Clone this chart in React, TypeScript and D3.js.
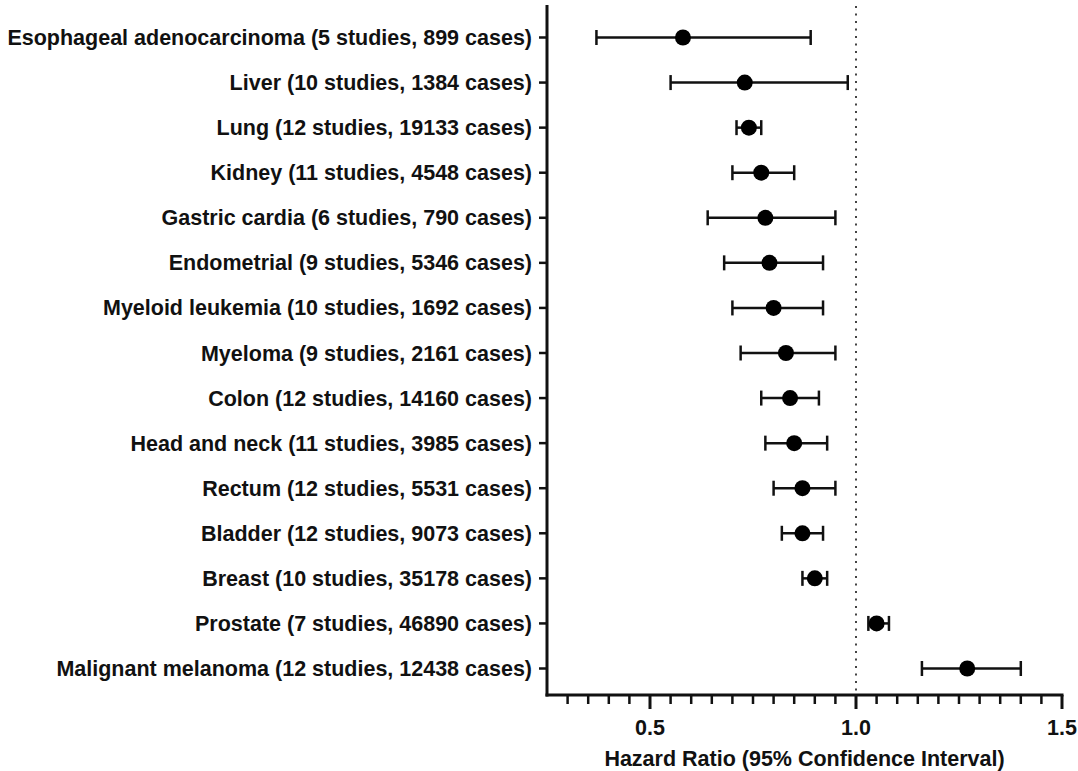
import { useEffect, useRef } from 'react'
import * as d3 from 'd3'

// Forest plot: hazard ratios with 95% CI
const categories = [
  'Esophageal adenocarcinoma (5 studies, 899 cases)',
  'Liver (10 studies, 1384 cases)',
  'Lung (12 studies, 19133 cases)',
  'Kidney (11 studies, 4548 cases)',
  'Gastric cardia (6 studies, 790 cases)',
  'Endometrial (9 studies, 5346 cases)',
  'Myeloid leukemia (10 studies, 1692 cases)',
  'Myeloma (9 studies, 2161 cases)',
  'Colon (12 studies, 14160 cases)',
  'Head and neck (11 studies, 3985 cases)',
  'Rectum (12 studies, 5531 cases)',
  'Bladder (12 studies, 9073 cases)',
  'Breast (10 studies, 35178 cases)',
  'Prostate (7 studies, 46890 cases)',
  'Malignant melanoma (12 studies, 12438 cases)',
]
const hazardRatio = [0.58, 0.73, 0.74, 0.77, 0.78, 0.79, 0.80, 0.83, 0.84, 0.85, 0.87, 0.87, 0.90, 1.05, 1.27]
const ciLower = [0.37, 0.55, 0.71, 0.70, 0.64, 0.68, 0.70, 0.72, 0.77, 0.78, 0.80, 0.82, 0.87, 1.03, 1.16]
const ciUpper = [0.89, 0.98, 0.77, 0.85, 0.95, 0.92, 0.92, 0.95, 0.91, 0.93, 0.95, 0.92, 0.93, 1.08, 1.40]

const xDomain = [0.25, 1.5]
const majorTicks = [0.5, 1.0, 1.5]
const majorTickLabels = ['0.5', '1.0', '1.5']
const referenceValue = 1.0
const xTitle = 'Hazard Ratio (95% Confidence Interval)'

const W = 1078
const H = 771
const FONT = '"Liberation Sans", Arial, Helvetica, sans-serif'
const INK = '#111'
const FS = '21.5px'

export default function App() {
  const svgRef = useRef<SVGSVGElement>(null)

  useEffect(() => {
    if (!svgRef.current) return

    const data = categories.map((name, i) => ({
      name,
      hr: hazardRatio[i],
      lo: ciLower[i],
      hi: ciUpper[i],
    }))

    const axisX = 547
    const axisY = 695

    const x = d3.scaleLinear().domain(xDomain).range([axisX, 1062])
    const y = d3.scalePoint<string>().domain(categories).range([37.5, 668.5])

    const svg = d3.select(svgRef.current)
    svg.selectAll('*').remove()

    // reference line at HR = 1
    svg.append('line')
      .attr('x1', x(referenceValue))
      .attr('x2', x(referenceValue))
      .attr('y1', 6)
      .attr('y2', axisY)
      .attr('stroke', '#444')
      .attr('stroke-width', 2)
      .attr('stroke-dasharray', '2,5.5')

    // y axis
    svg.append('line')
      .attr('x1', axisX).attr('x2', axisX)
      .attr('y1', 5).attr('y2', axisY + 1.5)
      .attr('stroke', INK).attr('stroke-width', 3)

    svg.selectAll('.ytick')
      .data(data)
      .join('line')
      .attr('class', 'ytick')
      .attr('x1', axisX - 8)
      .attr('x2', axisX)
      .attr('y1', d => y(d.name) || 0)
      .attr('y2', d => y(d.name) || 0)
      .attr('stroke', INK)
      .attr('stroke-width', 2.5)

    svg.selectAll('.ylabel')
      .data(data)
      .join('text')
      .attr('class', 'ylabel')
      .attr('x', axisX - 15)
      .attr('y', d => (y(d.name) || 0) + 7.5)
      .attr('text-anchor', 'end')
      .attr('font-family', FONT)
      .attr('font-weight', 'bold')
      .attr('font-size', FS)
      .attr('fill', INK)
      .text(d => d.name)

    // x axis
    svg.append('line')
      .attr('x1', axisX - 1.5).attr('x2', x(xDomain[1]) + 1.5)
      .attr('y1', axisY).attr('y2', axisY)
      .attr('stroke', INK).attr('stroke-width', 3)

    const minorTicks = d3.range(0.30, 1.5, 0.05)
      .filter(t => !majorTicks.some(m => Math.abs(m - t) < 1e-6))

    svg.selectAll('.xminor')
      .data(minorTicks)
      .join('line')
      .attr('class', 'xminor')
      .attr('x1', d => x(d)).attr('x2', d => x(d))
      .attr('y1', axisY).attr('y2', axisY + 9)
      .attr('stroke', INK).attr('stroke-width', 2.5)

    svg.selectAll('.xmajor')
      .data(majorTicks)
      .join('line')
      .attr('class', 'xmajor')
      .attr('x1', d => x(d)).attr('x2', d => x(d))
      .attr('y1', axisY).attr('y2', axisY + 14)
      .attr('stroke', INK).attr('stroke-width', 3)

    svg.selectAll('.xlabel')
      .data(majorTicks)
      .join('text')
      .attr('class', 'xlabel')
      .attr('x', d => x(d))
      .attr('y', 735)
      .attr('text-anchor', 'middle')
      .attr('font-family', FONT)
      .attr('font-weight', 'bold')
      .attr('font-size', FS)
      .attr('fill', INK)
      .text((d, i) => majorTickLabels[i])

    svg.append('text')
      .attr('x', (x(xDomain[0]) + x(xDomain[1])) / 2)
      .attr('y', 766)
      .attr('text-anchor', 'middle')
      .attr('font-family', FONT)
      .attr('font-weight', 'bold')
      .attr('font-size', FS)
      .attr('fill', INK)
      .text(xTitle)

    // error bars
    const bars = svg.append('g')
      .attr('stroke', INK)
      .attr('stroke-width', 2.5)

    bars.selectAll('.ci')
      .data(data)
      .join('line')
      .attr('class', 'ci')
      .attr('x1', d => x(d.lo))
      .attr('x2', d => x(d.hi))
      .attr('y1', d => y(d.name) || 0)
      .attr('y2', d => y(d.name) || 0)

    bars.selectAll('.cap-lo')
      .data(data)
      .join('line')
      .attr('class', 'cap-lo')
      .attr('x1', d => x(d.lo))
      .attr('x2', d => x(d.lo))
      .attr('y1', d => (y(d.name) || 0) - 7.5)
      .attr('y2', d => (y(d.name) || 0) + 7.5)

    bars.selectAll('.cap-hi')
      .data(data)
      .join('line')
      .attr('class', 'cap-hi')
      .attr('x1', d => x(d.hi))
      .attr('x2', d => x(d.hi))
      .attr('y1', d => (y(d.name) || 0) - 7.5)
      .attr('y2', d => (y(d.name) || 0) + 7.5)

    // point estimates
    svg.selectAll('.pt')
      .data(data)
      .join('circle')
      .attr('class', 'pt')
      .attr('cx', d => x(d.hr))
      .attr('cy', d => y(d.name) || 0)
      .attr('r', 8)
      .attr('fill', '#000')
  }, [])

  return (
    <svg
      ref={svgRef}
      width={W}
      height={H}
      style={{ position: 'absolute', left: 0, top: 0, background: '#fff' }}
    />
  )
}
